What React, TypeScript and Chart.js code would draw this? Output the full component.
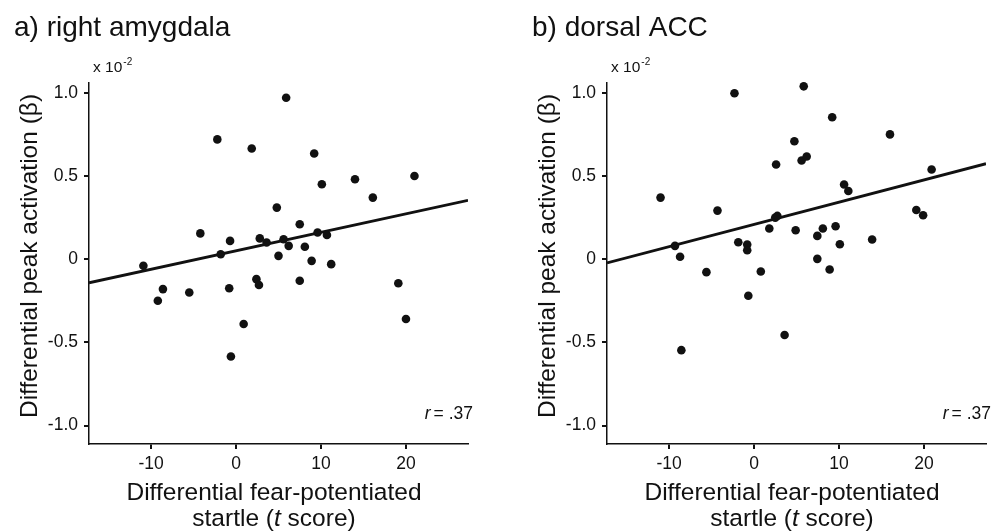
import React, { useEffect, useRef } from "react";
import { Chart, registerables } from "chart.js";

Chart.register(...registerables);

// ---------- data ----------
const panelTitles = ["a) right amygdala", "b) dorsal ACC"];
const correlationText = [".37", ".37"];

const amygdalaX = [-10.9, -9.2, -8.6, -5.5, -4.2, -2.2, -1.8, -0.8, -0.7, -0.6, 0.9, 1.85, 2.4, 2.7, 2.8, 3.6, 4.8, 5.0, 5.6, 5.9, 6.2, 7.5, 7.5, 8.1, 8.9, 9.2, 9.6, 10.1, 10.7, 11.2, 14.0, 16.1, 19.1, 20.0, 21.0];
const amygdalaY = [-0.04, -0.25, -0.18, -0.2, 0.155, 0.72, 0.03, -0.175, 0.11, -0.585, -0.39, 0.665, -0.12, -0.155, 0.125, 0.1, 0.31, 0.02, 0.12, 0.97, 0.08, 0.21, -0.13, 0.075, -0.01, 0.635, 0.16, 0.45, 0.145, -0.03, 0.48, 0.37, -0.145, -0.36, 0.5];

const accX = [-11.0, -9.3, -8.7, -8.55, -5.6, -4.3, -2.3, -1.85, -0.8, -0.8, -0.67, 0.8, 1.8, 2.5, 2.75, 2.6, 3.6, 4.75, 4.9, 5.6, 5.85, 6.2, 7.45, 7.45, 8.1, 8.9, 9.2, 9.6, 10.1, 10.6, 11.1, 13.9, 16.0, 19.1, 19.9, 20.9];
const accY = [0.37, 0.08, 0.015, -0.547, -0.078, 0.292, 0.997, 0.102, 0.088, 0.054, -0.22, -0.074, 0.184, 0.25, 0.26, 0.569, -0.456, 0.709, 0.174, 0.593, 1.039, 0.617, 0.14, 0.002, 0.184, -0.062, 0.853, 0.198, 0.09, 0.449, 0.41, 0.118, 0.75, 0.296, 0.264, 0.539];

const fitX = [-17.3, 27.3];
const amygdalaFitY = [-0.142, 0.354];
const accFitY = [-0.022, 0.574];

const xTicks = [-10, 0, 10, 20];
const xTickLabels = ["-10", "0", "10", "20"];
const yTicks = [-1, -0.5, 0, 0.5, 1];
const yTickLabels = ["-1.0", "-0.5", "0", "0.5", "1.0"];
const xRange = [-17.3, 27.3];
const yRange = [-1.111, 1.059];

const yAxisTitle = "Differential peak activation (\u03b2)";
const xAxisTitleLine1 = "Differential fear-potentiated";
const scaleNote = "x 10";
const scaleExp = "-2";

// ---------- styling ----------
const FONT = '"Liberation Sans", Arial, Helvetica, sans-serif';
const INK = "#111111";
const W = 479;
const H = 532;

function makePoints(xs: number[], ys: number[]) {
  return xs.map((x, i) => ({ x, y: ys[i] }));
}

function textPlugin(title: string, rText: string) {
  return {
    id: "panelText",
    afterDraw(chart: any) {
      const ctx = chart.ctx as CanvasRenderingContext2D;
      const area = chart.chartArea;
      ctx.save();
      ctx.fillStyle = INK;
      ctx.textBaseline = "alphabetic";

      // panel title
      ctx.font = `28px ${FONT}`;
      ctx.textAlign = "left";
      ctx.fillText(title, 14, 36);

      // scale note x 10^-2
      ctx.font = `15.5px ${FONT}`;
      ctx.fillText(scaleNote, 93, 72);
      const nw = ctx.measureText(scaleNote).width;
      ctx.font = `10px ${FONT}`;
      ctx.fillText(scaleExp, 93 + nw + 1, 65);

      // y axis title
      ctx.save();
      ctx.translate(36.5, 256);
      ctx.rotate(-Math.PI / 2);
      ctx.font = `24.5px ${FONT}`;
      ctx.textAlign = "center";
      ctx.fillText(yAxisTitle, 0, 0);
      ctx.restore();

      // x axis title
      const cx = 274;
      ctx.font = `24.5px ${FONT}`;
      ctx.textAlign = "center";
      ctx.fillText(xAxisTitleLine1, cx, 500);
      // second line with italic t
      ctx.textAlign = "left";
      const p1 = "startle (";
      const p2 = "t";
      const p3 = " score)";
      ctx.font = `24.5px ${FONT}`;
      const w1 = ctx.measureText(p1).width;
      const w3 = ctx.measureText(p3).width;
      ctx.font = `italic 24.5px ${FONT}`;
      const w2 = ctx.measureText(p2).width;
      const sx = cx - (w1 + w2 + w3) / 2;
      ctx.font = `24.5px ${FONT}`;
      ctx.fillText(p1, sx, 526);
      ctx.font = `italic 24.5px ${FONT}`;
      ctx.fillText(p2, sx + w1, 526);
      ctx.font = `24.5px ${FONT}`;
      ctx.fillText(p3, sx + w1 + w2, 526);

      // r = .37
      ctx.font = `17.5px ${FONT}`;
      const rest = "= " + rText;
      const wr = ctx.measureText(rest).width;
      const right = area.right + 5;
      ctx.fillText(rest, right - wr, 419);
      ctx.font = `italic 17.5px ${FONT}`;
      const wi = ctx.measureText("r").width;
      ctx.fillText("r", right - wr - wi - 3, 419);

      ctx.restore();
    },
  };
}

function Panel({ idx, xs, ys, fitY, left }: { idx: number; xs: number[]; ys: number[]; fitY: number[]; left: number }) {
  const ref = useRef<HTMLCanvasElement | null>(null);
  useEffect(() => {
    if (!ref.current) return;
    const chart = new Chart(ref.current, {
      type: "scatter",
      data: {
        datasets: [
          {
            type: "line",
            data: makePoints(fitX, fitY),
            borderColor: INK,
            borderWidth: 2.8,
            pointRadius: 0,
            fill: false,
            order: 2,
          } as any,
          {
            data: makePoints(xs, ys),
            backgroundColor: INK,
            borderWidth: 0,
            pointRadius: 4.3,
            clip: false,
            order: 1,
          } as any,
        ],
      },
      options: {
        animation: false,
        responsive: false,
        devicePixelRatio: 1,
        layout: { padding: { left: 0, right: 11, top: 83, bottom: 0 } },
        plugins: { legend: { display: false }, tooltip: { enabled: false } },
        scales: {
          x: {
            type: "linear",
            min: xRange[0],
            max: xRange[1],
            afterBuildTicks: (s: any) => {
              s.ticks = xTicks.map((v) => ({ value: v }));
            },
            afterFit: (s: any) => {
              s.height = 88;
            },
            ticks: {
              color: INK,
              font: { family: FONT, size: 17.5 },
              padding: 5,
              maxRotation: 0,
              callback: (_v: any, i: number) => xTickLabels[i],
            },
            grid: { drawOnChartArea: false, drawTicks: true, tickLength: 5, color: INK, lineWidth: 2 },
            border: { display: true, color: INK, width: 1.5 },
          },
          y: {
            type: "linear",
            min: yRange[0],
            max: yRange[1],
            afterBuildTicks: (s: any) => {
              s.ticks = yTicks.map((v) => ({ value: v }));
            },
            afterFit: (s: any) => {
              s.width = 89;
            },
            ticks: {
              color: INK,
              font: { family: FONT, size: 17.5 },
              padding: 6,
              callback: (_v: any, i: number) => yTickLabels[i],
            },
            grid: { drawOnChartArea: false, drawTicks: true, tickLength: 5, color: INK, lineWidth: 2 },
            border: { display: true, color: INK, width: 1.5 },
          },
        },
      },
      plugins: [textPlugin(panelTitles[idx], correlationText[idx])],
    });
    return () => chart.destroy();
  }, []);
  return (
    <canvas
      ref={ref}
      width={W}
      height={H}
      style={{ position: "absolute", left, top: 0, width: W, height: H }}
    />
  );
}

export default function App() {
  useEffect(() => {
    document.body.style.margin = "0";
  }, []);
  return (
    <div style={{ position: "absolute", left: 0, top: 0, width: 997, height: 532, background: "#fff" }}>
      <Panel idx={0} xs={amygdalaX} ys={amygdalaY} fitY={amygdalaFitY} left={0} />
      <Panel idx={1} xs={accX} ys={accY} fitY={accFitY} left={518} />
    </div>
  );
}
